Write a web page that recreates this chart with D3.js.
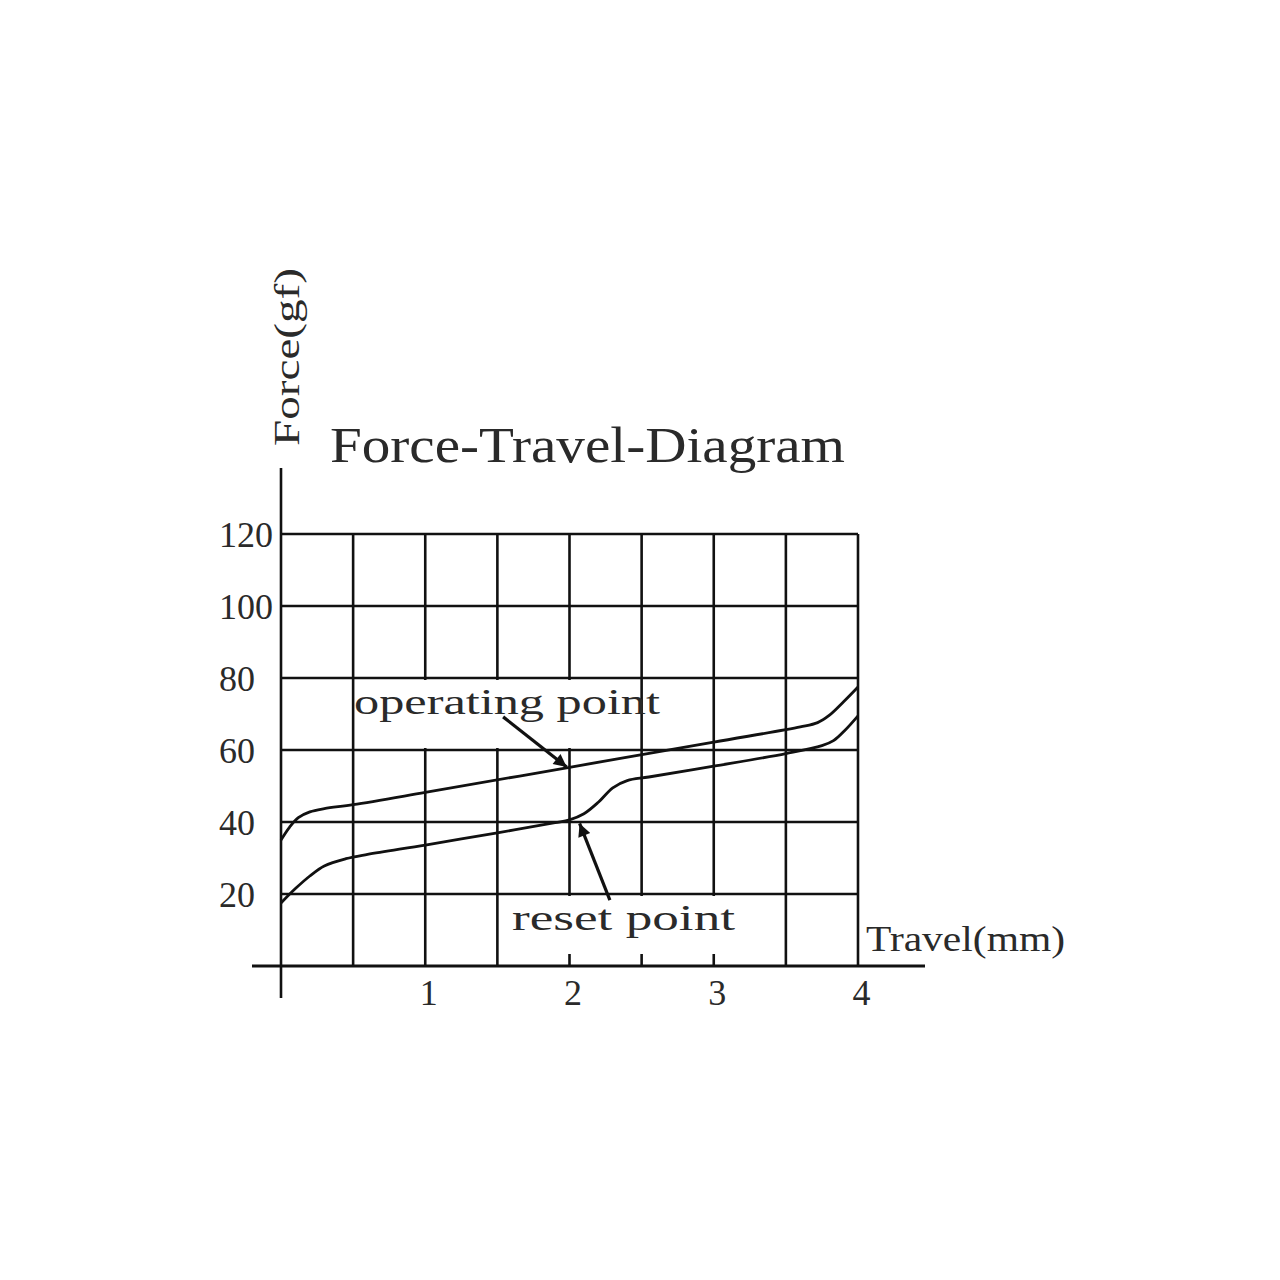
<!DOCTYPE html>
<html>
<head>
<meta charset="utf-8">
<script src="https://cdn.jsdelivr.net/npm/d3@7"></script>
<style>
  body { margin: 0; background: #fff; }
  text { font-family: "Liberation Serif", "Times New Roman", serif; fill: #2a2a2a; }
</style>
</head>
<body>
<div class="chart"></div>
<script>
// values
var xTicks = [1, 2, 3, 4];
var yTicks = [20, 40, 60, 80, 100, 120];
var xGrid = [0.5, 1, 1.5, 2, 2.5, 3, 3.5, 4];

var opTravel  = [0, 0.06, 0.12, 0.2, 0.3, 0.5, 1, 2, 3, 3.6, 3.72, 3.8, 3.9, 4];
var opForce   = [35, 38.6, 41.2, 42.8, 43.7, 44.8, 48.2, 55.2, 62.2, 66.4, 67.6, 69.6, 73.4, 77.5];

var rsTravel  = [0, 0.1, 0.2, 0.3, 0.45, 0.6, 1, 1.5, 1.9, 2, 2.1, 2.2, 2.3, 2.4, 2.55, 3, 3.5, 3.75, 3.83, 3.91, 4];
var rsForce   = [17.5, 21.5, 25, 27.8, 29.8, 31, 33.6, 37, 39.8, 40.6, 42.3, 45.5, 49.5, 51.5, 52.5, 55.5, 59, 61.2, 62.6, 65.5, 69.5];

// arrows: [tailX, tailY, headX, headY] in data units
var opArrow = [1.54, 69.2, 1.98, 55.3];
var rsArrow = [2.28, 18.3, 2.07, 39.6];

var svgWidth = 1280;
var svgHeight = 1280;

var svg = d3.select(".chart")
    .append("svg")
    .attr("width", svgWidth)
    .attr("height", svgHeight);

var x = d3.scaleLinear().domain([0, 4]).range([281, 858]);
var y = d3.scaleLinear().domain([0, 120]).range([966, 534]);

var ink = "#111";

// grid
svg.append("g").selectAll("line")
    .data(yTicks)
    .enter().append("line")
    .attr("x1", x(0)).attr("x2", x(4))
    .attr("y1", function(d) { return y(d); })
    .attr("y2", function(d) { return y(d); })
    .attr("stroke", ink).attr("stroke-width", 2.6);

svg.append("g").selectAll("line")
    .data(xGrid)
    .enter().append("line")
    .attr("x1", function(d) { return x(d); })
    .attr("x2", function(d) { return x(d); })
    .attr("y1", y(0)).attr("y2", y(120))
    .attr("stroke", ink).attr("stroke-width", 2.6);

// white patches behind the labels
svg.append("rect")
    .attr("x", x(0.5) + 2).attr("y", y(80) + 2)
    .attr("width", x(2.5) - x(0.5) - 4)
    .attr("height", y(60) - y(80) - 4)
    .attr("fill", "#fff");

svg.append("rect")
    .attr("x", x(1.5) + 2).attr("y", y(20) + 2)
    .attr("width", x(3.5) - x(1.5) - 4)
    .attr("height", y(0) - y(20) - 14)
    .attr("fill", "#fff");

// axes lines
svg.append("line")
    .attr("x1", x(0)).attr("x2", x(0))
    .attr("y1", 468).attr("y2", 998)
    .attr("stroke", ink).attr("stroke-width", 2.6);

svg.append("line")
    .attr("x1", 252).attr("x2", 925)
    .attr("y1", y(0)).attr("y2", y(0))
    .attr("stroke", ink).attr("stroke-width", 2.8);

// curves
var line = d3.line()
    .x(function(d) { return x(d[0]); })
    .y(function(d) { return y(d[1]); })
    .curve(d3.curveCatmullRom.alpha(0.5));

svg.append("path")
    .datum(d3.zip(opTravel, opForce))
    .attr("d", line)
    .attr("fill", "none").attr("stroke", ink).attr("stroke-width", 2.8);

svg.append("path")
    .datum(d3.zip(rsTravel, rsForce))
    .attr("d", line)
    .attr("fill", "none").attr("stroke", ink).attr("stroke-width", 2.8);

// arrows
svg.append("defs").append("marker")
    .attr("id", "head")
    .attr("viewBox", "0 0 10 10")
    .attr("refX", 10).attr("refY", 5)
    .attr("markerWidth", 5).attr("markerHeight", 4)
    .attr("markerUnits", "strokeWidth")
    .attr("orient", "auto")
    .append("path")
    .attr("d", "M0,0L10,5L0,10Z")
    .attr("fill", ink);

[opArrow, rsArrow].forEach(function(a) {
    svg.append("line")
        .attr("x1", x(a[0])).attr("y1", y(a[1]))
        .attr("x2", x(a[2])).attr("y2", y(a[3]))
        .attr("stroke", ink).attr("stroke-width", 3.2)
        .attr("marker-end", "url(#head)");
});

// tick labels via axes
var bottomAxis = d3.axisBottom(x).tickValues(xTicks).tickFormat(d3.format("d")).tickSize(0).tickPadding(0);
var xAxisG = svg.append("g")
    .attr("transform", "translate(3," + 1005 + ")")
    .call(bottomAxis);
xAxisG.select(".domain").remove();
xAxisG.selectAll("text")
    .attr("dy", 0).attr("y", 0)
    .style("font-size", "36px")
    .style("font-family", "Liberation Serif")
    .attr("fill", "#2a2a2a");

var leftAxis = d3.axisLeft(y).tickValues(yTicks).tickFormat(d3.format("d")).tickSize(0).tickPadding(0);
var yAxisG = svg.append("g")
    .attr("transform", "translate(219,0)")
    .call(leftAxis);
yAxisG.select(".domain").remove();
yAxisG.selectAll("text")
    .attr("x", 0).attr("dy", "0.34em")
    .attr("text-anchor", "start")
    .style("font-size", "36px")
    .style("font-family", "Liberation Serif")
    .attr("fill", "#2a2a2a");

// texts
svg.append("text")
    .attr("x", 330).attr("y", 462)
    .attr("textLength", 515).attr("lengthAdjust", "spacingAndGlyphs")
    .style("font-size", "50px")
    .text("Force-Travel-Diagram");

svg.append("text")
    .attr("transform", "translate(299,446) rotate(-90)")
    .attr("textLength", 178).attr("lengthAdjust", "spacingAndGlyphs")
    .style("font-size", "36px")
    .text("Force(gf)");

svg.append("text")
    .attr("x", 354).attr("y", 714)
    .attr("textLength", 306).attr("lengthAdjust", "spacingAndGlyphs")
    .style("font-size", "36px")
    .text("operating point");

svg.append("text")
    .attr("x", 512).attr("y", 930)
    .attr("textLength", 223).attr("lengthAdjust", "spacingAndGlyphs")
    .style("font-size", "36px")
    .text("reset point");

svg.append("text")
    .attr("x", 866).attr("y", 951)
    .attr("textLength", 199).attr("lengthAdjust", "spacingAndGlyphs")
    .style("font-size", "36px")
    .text("Travel(mm)");
</script>
</body>
</html>
